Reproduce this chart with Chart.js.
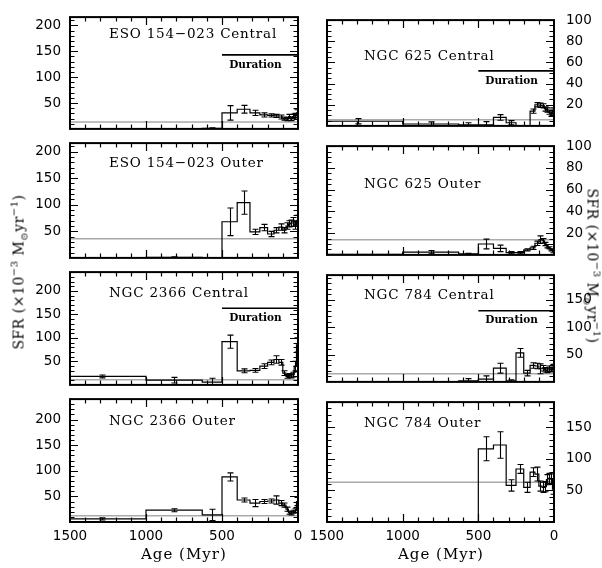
<!DOCTYPE html>
<html>
<head>
<meta charset="utf-8">
<script src="https://cdn.jsdelivr.net/npm/chart.js@4.4.1/dist/chart.umd.min.js"></script>
<style>
  body { margin: 0; background: #fff; }
  #wrap { position: relative; width: 602px; height: 568px; overflow: hidden; background: #fff; }
  #wrap canvas { position: absolute; }
  .lbl { position: absolute; font: 13.5px "DejaVu Serif"; letter-spacing: 0.8px; white-space: nowrap; line-height: 16px; color: #000; }
  .axt { position: absolute; font: 14px "DejaVu Serif"; white-space: nowrap; line-height: 18px; color: #000; letter-spacing: 0.5px; }
  .axt.big { font-size: 15px; letter-spacing: 1px; }
  .axt sup, .axt sub { font-size: 10px; line-height: 0; }
</style>
</head>
<body>
<div id="wrap"></div>
<script>
// bin edges in Myr (oldest first) and axis ticks
const ageEdges = [1585, 1000, 630, 500, 400, 316, 251, 200, 158, 126, 100, 79, 63, 50, 40, 25, 10, 0];
const ageTicks = [1500, 1000, 500, 0];
const sfrTicksWide = [50, 100, 150, 200];
const sfrTicksNgc625 = [20, 40, 60, 80, 100];
const sfrTicksNgc784 = [50, 100, 150];

const panelNames = ['ESO 154\u2212023 Central', 'ESO 154\u2212023 Outer', 'NGC 2366 Central', 'NGC 2366 Outer',
  'NGC 625 Central', 'NGC 625 Outer', 'NGC 784 Central', 'NGC 784 Outer'];

// SFR per bin (10^-3 Msun/yr) and errors
const eso154cSfr = [0, 0, 1, 31, 38, 31, 27, 26, 25, 23, 20, 19, 24, 19, 24, 26, 31];
const eso154cErr = [0, 0, 1, 14, 7.5, 5, 4, 3, 3, 4, 3, 3, 4, 3, 4, 4, 6];
const eso154oSfr = [0, 1, 0, 68, 104, 49, 57, 45, 52, 58, 52, 60, 64, 65, 68, 62, 70];
const eso154oErr = [0, 1, 0, 26, 22, 5, 6, 5, 5, 6, 5, 6, 6, 6, 8, 8, 10];
const ngc2366cSfr = [18, 10, 6, 92, 30, 31, 40, 48, 54, 48, 25, 18, 20, 19, 22, 40, 85];
const ngc2366cErr = [3, 6, 8, 14, 4, 4, 5, 5, 8, 6, 5, 4, 4, 4, 5, 10, 15];
const ngc2366oSfr = [6, 23, 14, 88, 43, 37, 40, 41, 43, 37, 33, 25, 18, 17, 20, 22, 40];
const ngc2366oErr = [2, 3, 11, 8, 4, 7, 4, 4, 8, 5, 4, 4, 3, 3, 3, 4, 8];
const ngc625cSfr = [4.4, 1.8, 1, 1, 8, 3, 0, 0, 14, 20, 19.5, 19, 16, 15, 13, 11, 15];
const ngc625cErr = [2.5, 2, 2, 3, 2.7, 2, 0, 0, 2, 2, 2, 2, 2, 2, 2, 2, 2];
const ngc625oSfr = [0.5, 2.5, 1, 10, 6, 2, 2, 4.7, 6.5, 10.7, 14, 13, 10, 8, 6.5, 4.7, 3];
const ngc625oErr = [0, 1.5, 0.5, 4.5, 3, 1, 1, 1, 1.5, 2, 3.5, 2, 1.5, 1.5, 1, 1, 1];
const ngc784cSfr = [0, 0, 2, 5, 25, 2, 53, 16, 30, 29, 24, 25, 22, 21, 24, 22, 27];
const ngc784cErr = [0, 0, 4, 6, 9, 2, 8, 5, 5, 5, 9, 5, 4, 4, 5, 4, 5];
const ngc784oSfr = [0, 0, 0, 116, 122, 58, 84, 55, 79, 76, 57, 55, 56, 67, 69, 68, 52];
const ngc784oErr = [0, 0, 0, 19, 21, 9, 7, 8, 7, 11, 8, 8, 8, 8, 8, 8, 8];

// average SFR (gray line) and burst duration level
const avgSfr = [13.5, 36, 11, 12, 5.7, 14, 15, 63];
const durationSfr = [143, null, 163, null, 52, null, 130, null];
const durationSpan = [500, 0];

// layout
const cols = [
  { left: 0, width: 310, padL: 0, padR: 12, yPos: 'left', yW: 70, tickPad: 9, labelX: 109 },
  { left: 300, width: 302, padL: 27, padR: 0, yPos: 'right', yW: 48, tickPad: 12, labelX: 364 }
];
const rowTop = [10, 136, 265, 392];
const rowBot = [136, 265, 392, 522];
const labelY = [33, 162, 292, 420, 55, 183, 294, 422];

const panels = [
  { val: eso154cSfr, err: eso154cErr, ymax: 216, ticks: sfrTicksWide, minor: 10 },
  { val: eso154oSfr, err: eso154oErr, ymax: 216, ticks: sfrTicksWide, minor: 10 },
  { val: ngc2366cSfr, err: ngc2366cErr, ymax: 240, ticks: sfrTicksWide, minor: 10 },
  { val: ngc2366oSfr, err: ngc2366oErr, ymax: 240, ticks: sfrTicksWide, minor: 10 },
  { val: ngc625cSfr, err: ngc625cErr, ymax: 100, ticks: sfrTicksNgc625, minor: 5 },
  { val: ngc625oSfr, err: ngc625oErr, ymax: 100, ticks: sfrTicksNgc625, minor: 5 },
  { val: ngc784cSfr, err: ngc784cErr, ymax: 195, ticks: sfrTicksNgc784, minor: 10 },
  { val: ngc784oSfr, err: ngc784oErr, ymax: 190, ticks: sfrTicksNgc784, minor: 10 }
];

// frame, inward ticks, error bars, duration text
const decoPlugin = {
  id: 'deco',
  afterDatasetsDraw(chart, args, opts) {
    const { ctx, chartArea: a, scales: { x, y } } = chart;
    const p = opts.panel;
    ctx.save();
    ctx.beginPath();
    ctx.rect(a.left, a.top, a.right - a.left, a.bottom - a.top);
    ctx.clip();
    ctx.strokeStyle = '#000';
    ctx.lineWidth = 1.1;
    p.val.forEach((v, i) => {
      const e = p.err[i];
      if (!e) return;
      const px = Math.round(x.getPixelForValue((ageEdges[i] + ageEdges[i + 1]) / 2)) + 0.5;
      const y1 = y.getPixelForValue(v - e), y2 = y.getPixelForValue(v + e);
      ctx.beginPath();
      ctx.moveTo(px, y1); ctx.lineTo(px, y2);
      ctx.moveTo(px - 3, y1); ctx.lineTo(px + 3, y1);
      ctx.moveTo(px - 3, y2); ctx.lineTo(px + 3, y2);
      ctx.stroke();
    });
    ctx.restore();

    ctx.save();
    ctx.strokeStyle = '#000';
    ctx.lineWidth = 1.2;
    ctx.beginPath();
    for (let t = 100; t < 1500; t += 100) {
      const px = Math.round(x.getPixelForValue(t)) + 0.5;
      const len = t % 500 === 0 ? 8 : 4.5;
      ctx.moveTo(px, a.top); ctx.lineTo(px, a.top + len);
      ctx.moveTo(px, a.bottom); ctx.lineTo(px, a.bottom - len);
    }
    for (let v = p.minor; v < p.ymax; v += p.minor) {
      const py = Math.round(y.getPixelForValue(v)) + 0.5;
      const len = p.ticks.includes(v) ? 8 : 4.5;
      ctx.moveTo(a.left, py); ctx.lineTo(a.left + len, py);
      ctx.moveTo(a.right, py); ctx.lineTo(a.right - len, py);
    }
    ctx.stroke();
    ctx.lineWidth = 2;
    ctx.strokeRect(a.left, a.top, a.right - a.left, a.bottom - a.top);

    if (p.dur != null) {
      ctx.fillStyle = '#000';
      ctx.font = 'bold 10.5px "DejaVu Serif"';
      ctx.textAlign = 'center';
      ctx.textBaseline = 'middle';
      ctx.fillText('Duration', x.getPixelForValue(280), y.getPixelForValue(p.dur) + 10);
    }
    ctx.restore();
  }
};

document.addEventListener('DOMContentLoaded', () => {
  const wrap = document.getElementById('wrap');

  panels.forEach((p, k) => {
    const col = cols[Math.floor(k / 4)];
    const row = k % 4;
    const bottom = row === 3;
    p.dur = durationSfr[k];

    const cv = document.createElement('canvas');
    const top = rowTop[row] - 10;
    const h = rowBot[row] - rowTop[row] + 10 + (bottom ? 46 : 10);
    cv.width = col.width; cv.height = h;
    cv.style.width = col.width + 'px'; cv.style.height = h + 'px';
    cv.style.left = col.left + 'px'; cv.style.top = top + 'px';
    wrap.appendChild(cv);

    // step histogram points: each bin's value starts at its older edge
    const hist = p.val.map((v, i) => ({ x: ageEdges[i], y: v }));
    hist.push({ x: 0, y: p.val[p.val.length - 1] });

    const datasets = [
      { data: hist, stepped: true, borderColor: '#000', borderWidth: 1.2, pointRadius: 0, fill: false }
    ];
    if (p.dur != null) {
      datasets.push({ data: durationSpan.map(t => ({ x: t, y: p.dur })), borderColor: '#000', borderWidth: 1.6, pointRadius: 0 });
    }
    datasets.push({ data: [{ x: 1500, y: avgSfr[k] }, { x: 0, y: avgSfr[k] }], borderColor: '#aaaaaa', borderWidth: 1.5, pointRadius: 0 });

    new Chart(cv.getContext('2d'), {
      type: 'line',
      data: { datasets },
      options: {
        responsive: false,
        maintainAspectRatio: false,
        animation: false,
        events: [],
        layout: { padding: { left: col.padL, right: col.padR, top: 10, bottom: bottom ? 0 : 10 } },
        plugins: { legend: { display: false }, tooltip: { enabled: false }, deco: { panel: p } },
        scales: {
          x: {
            type: 'linear', min: 0, max: 1500, reverse: true,
            display: bottom,
            afterBuildTicks: s => { s.ticks = ageTicks.map(v => ({ value: v })); },
            afterFit: s => { if (bottom) s.height = 46; },
            grid: { display: false, drawTicks: false },
            border: { display: false },
            ticks: { color: '#000', font: { family: 'DejaVu Sans', size: 13.5 }, padding: 6, maxRotation: 0, autoSkip: false,
              callback: v => String(v) }
          },
          y: {
            type: 'linear', min: 0, max: p.ymax, position: col.yPos,
            afterBuildTicks: s => { s.ticks = p.ticks.map(v => ({ value: v })); },
            afterFit: s => { s.width = col.yW; },
            grid: { display: false, drawTicks: false },
            border: { display: false },
            ticks: { color: '#000', font: { family: 'DejaVu Sans', size: 13.5 }, padding: col.tickPad,
              callback: v => String(v) }
          }
        }
      },
      plugins: [decoPlugin]
    });

    const lb = document.createElement('div');
    lb.className = 'lbl';
    lb.textContent = panelNames[k];
    lb.style.left = col.labelX + 'px';
    lb.style.top = (labelY[k] - 8) + 'px';
    wrap.appendChild(lb);
  });

  // axis titles
  const sfrTitle = 'SFR (\u00d710<sup>\u22123</sup> M<sub>\u2299</sub>yr<sup>\u22121</sup>)';
  const addTitle = (html, cx, cy, rot, cls) => {
    const d = document.createElement('div');
    d.className = 'axt' + (cls ? ' ' + cls : '');
    d.innerHTML = html;
    wrap.appendChild(d);
    const w = d.offsetWidth, h = d.offsetHeight;
    d.style.left = (cx - w / 2) + 'px';
    d.style.top = (cy - h / 2) + 'px';
    if (rot) d.style.transform = 'rotate(' + rot + 'deg)';
  };
  addTitle(sfrTitle, 18, 272, -90);
  addTitle(sfrTitle, 592, 266, 90);
  addTitle('Age (Myr)', 184, 554, 0, 'big');
  addTitle('Age (Myr)', 441, 554, 0, 'big');
});
</script>
</body>
</html>
